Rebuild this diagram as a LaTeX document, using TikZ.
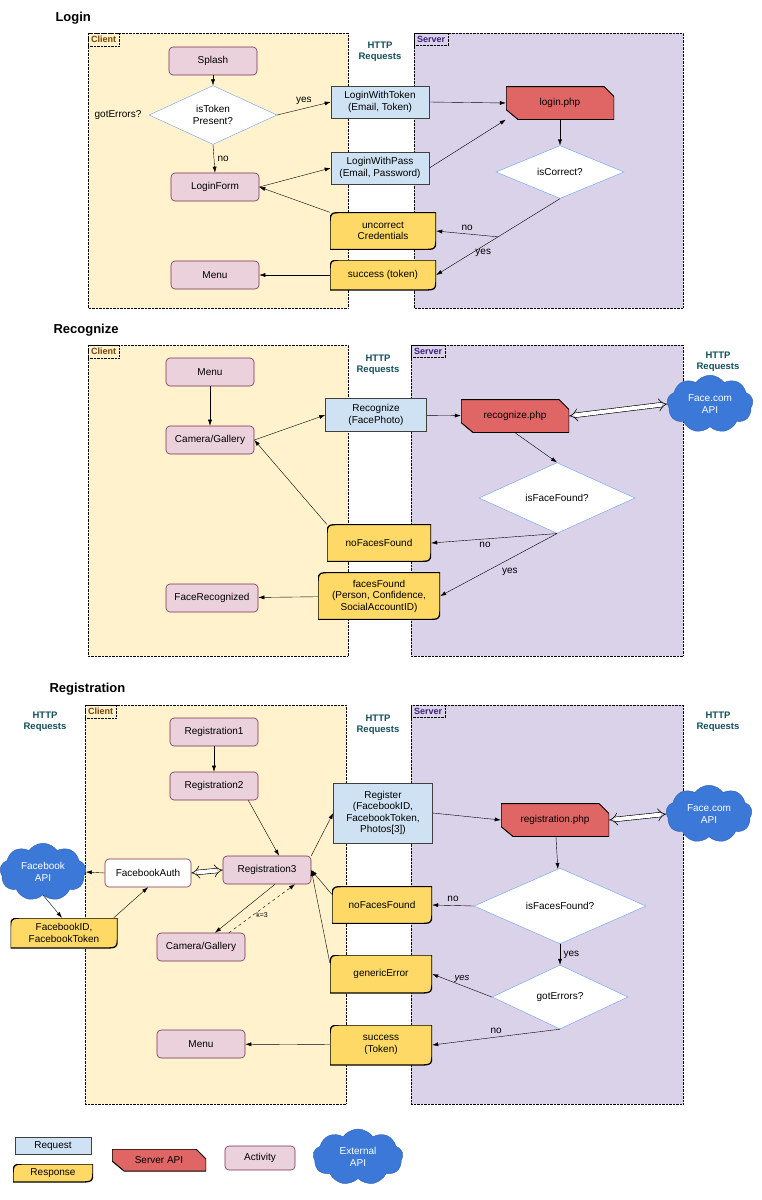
\documentclass[tikz,border=0pt]{standalone}
\usepackage{fontspec}
\setmainfont{Liberation Sans}
\usetikzlibrary{shapes.geometric,shapes.symbols,arrows.meta,positioning}
\definecolor{clientY}{HTML}{FFF2CC}
\definecolor{clientT}{HTML}{7F3F00}
\definecolor{serverP}{HTML}{D9D2E9}
\definecolor{serverT}{HTML}{3D1F7A}
\definecolor{httpT}{HTML}{134F5C}
\definecolor{reqB}{HTML}{CFE2F3}
\definecolor{respY}{HTML}{FFD966}
\definecolor{apiR}{HTML}{E06666}
\definecolor{actP}{HTML}{EAD1DC}
\definecolor{actD}{HTML}{7A2F54}
\definecolor{cloudB}{HTML}{3C78D8}
\definecolor{askB}{HTML}{6D9EEB}
\newcommand{\pb}{path picture bounding box}
\begin{document}
\begin{tikzpicture}[x=1pt, y=-1pt, font=\fontsize{10}{11.5}\selectfont,
  title style/.style={anchor=west, font=\fontsize{13}{15}\selectfont\bfseries},
  http style/.style={align=center, text=httpT, font=\fontsize{9.5}{11}\selectfont\bfseries},
  lane style/.style={draw, densely dotted},
  tag style/.style={draw, densely dotted, anchor=north west, inner sep=3pt, font=\fontsize{9}{10}\selectfont\bfseries},
  act style/.style={rectangle, draw=actD, semithick, fill=actP, rounded corners=4pt, minimum width=88, minimum height=28},
  req style/.style={rectangle, draw=black!75, semithick, fill=reqB, align=center, minimum width=98, minimum height=32},
  resp style/.style={align=center, minimum width=106, minimum height=36, path picture={
      \draw[fill=respY, line width=1.3pt] (\pb.south west) -- ([yshift=-14pt]\pb.north west) .. controls (\pb.north west) .. ([xshift=14pt]\pb.north west) -- (\pb.north east) -- ([yshift=14pt]\pb.south east) .. controls (\pb.south east) .. ([xshift=-14pt]\pb.south east) -- cycle;}},
  api style/.style={minimum width=108, minimum height=33, path picture={
      \draw[fill=apiR, line width=1pt] (\pb.north west) -- ([xshift=-10pt]\pb.north east) -- ([yshift=-10pt]\pb.north east) -- (\pb.south east) -- ([xshift=12pt]\pb.south west) -- ([yshift=10pt]\pb.south west) -- cycle;}},
  ask style/.style={diamond, draw=askB, fill=white, align=center, inner sep=0pt},
  cloud style/.style={cloud, cloud puffs=9, cloud puff arc=110, aspect=1.5, draw=cloudB!80!black, fill=cloudB, text=white, align=center, minimum width=86, minimum height=56},
  arr/.style={-{Latex[length=6pt,width=4pt]}},
  dbl/.style={double, double distance=4pt, line width=0.6pt, {Implies}-{Implies}}]
\useasboundingbox (0,0) rectangle (762,1200);

% Login
\node[title style] (T1) at (52,18) {Login};
\draw[lane style, fill=clientY] (88,33) rectangle (348,308);
\draw[lane style, fill=serverP] (414,33) rectangle (683,308);
\node[tag style, text=clientT] (C1) at (88,33) {Client};
\node[tag style, text=serverT] (V1) at (414,33) {Server};
\node[http style] (H1) at (380,52) {HTTP\\Requests};
\node[act style] (L1) at (213,61) {Splash};
\node[ask style, minimum width=128, minimum height=50] (L2) at (213,115) {isToken\\Present?};
\node (G1) at (118,115) {gotErrors?};
\node[req style] (L3) at (380,102) {LoginWithToken\\(Email, Token)};
\node[api style] (L4) at (560,103) {login.php};
\node[req style] (L5) at (380,168) {LoginWithPass\\(Email, Password)};
\node[ask style, minimum width=128, minimum height=50] (L6) at (560,172) {isCorrect?};
\node[act style] (L7) at (215,187) {LoginForm};
\node[resp style, minimum height=37] (L8) at (383,231) {uncorrect\\Credentials};
\node[act style] (L9) at (215,275) {Menu};
\node[resp style, minimum height=30] (L10) at (383,275) {success (token)};
\draw[arr] (L1) -- (L2);
\draw[arr] (L2.east) -- (L3.west) node[midway, above] {yes};
\draw[arr] (L2.south) -- (L7.north) node[midway, right] {no};
\draw[arr] (L7.east) -- (L5.west);
\draw[arr] (L3.east) -- (L4.west);
\draw[arr] (L5.east) -- (L4.south west);
\draw[arr] (L4) -- (L6);
\path (L6.south) -- (L10.east) coordinate[pos=.5] (B1);
\draw[arr] (L6.south) -- (L10.east) node[pos=.62, below] {yes};
\draw[arr] (B1) -- (L8.east) node[midway, above] {no};
\draw[arr] (L8.north west) -- (L7.east);
\draw[arr] (L10) -- (L9);

% Recognize
\node[title style] (T2) at (50,330) {Recognize};
\draw[lane style, fill=clientY] (88,345) rectangle (348,656);
\draw[lane style, fill=serverP] (411,345) rectangle (683,656);
\node[tag style, text=clientT] (C2) at (88,345) {Client};
\node[tag style, text=serverT] (V2) at (411,345) {Server};
\node[http style] (H2) at (378,365) {HTTP\\Requests};
\node[http style] (H3) at (718,362) {HTTP\\Requests};
\node[act style] (R1) at (210,372) {Menu};
\node[act style] (R2) at (210,440) {Camera/Gallery};
\node[req style, minimum width=101, minimum height=33] (R3) at (376,415) {Recognize\\(FacePhoto)};
\node[api style] (R4) at (515,416) {recognize.php};
\node[cloud style] (R5) at (710,404) {Face.com\\API};
\node[ask style, minimum width=156, minimum height=52] (R6) at (557,498) {isFaceFound?};
\node[resp style, minimum width=104, minimum height=37] (R7) at (379,543) {noFacesFound};
\node[resp style, minimum width=122, minimum height=47] (R8) at (379,596) {facesFound\\(Person, Confidence,\\SocialAccountID)};
\node[act style, minimum width=92] (R9) at (212,598) {FaceRecognized};
\draw[arr] (R1) -- (R2);
\draw[arr] (R2.east) -- (R3.west);
\draw[arr] (R3) -- (R4);
\draw[dbl] (R4.east) -- (R5.west);
\draw[arr] (R4.south) -- (R6.north);
\draw[arr] (R6.south) -- (R7.east) node[midway, below left] {no};
\draw[arr] (R6.south) -- (R8.east) node[midway, below right] {yes};
\draw[arr] (R7.north west) -- (R2.east);
\draw[arr] (R8) -- (R9);

% Registration
\node[title style] (T3) at (46,689) {Registration};
\draw[lane style, fill=clientY] (85,705) rectangle (346,1104);
\draw[lane style, fill=serverP] (411,705) rectangle (683,1104);
\node[tag style, text=clientT] (C3) at (85,705) {Client};
\node[tag style, text=serverT] (V3) at (411,705) {Server};
\node[http style] (H4) at (45,722) {HTTP\\Requests};
\node[http style] (H5) at (378,725) {HTTP\\Requests};
\node[http style] (H6) at (718,722) {HTTP\\Requests};
\node[act style] (G1a) at (214,732) {Registration1};
\node[act style] (G2) at (214,786) {Registration2};
\node[act style] (G3) at (267,870) {Registration3};
\node[act style, fill=white, minimum width=86] (G4) at (148,873) {FacebookAuth};
\node[cloud style] (G5) at (43,872) {Facebook\\API};
\node[resp style, minimum width=107, minimum height=30] (G6) at (64,933) {FacebookID,\\FacebookToken};
\node[act style] (G7) at (201,947) {Camera/Gallery};
\node[req style, minimum width=99, minimum height=60] (G8) at (383,813) {Register\\(FacebookID,\\FacebookToken,\\Photos[3])};
\node[api style] (G9) at (555,820) {registration.php};
\node[cloud style] (G10) at (709,814) {Face.com\\API};
\node[ask style, minimum width=172, minimum height=54] (G11) at (560,906) {isFacesFound?};
\node[resp style, minimum width=100, minimum height=37] (G12) at (382,905) {noFacesFound};
\node[ask style, minimum width=136, minimum height=64] (G13) at (560,997) {gotErrors?};
\node[resp style, minimum width=102, minimum height=38] (G14) at (381,974) {genericError};
\node[resp style, minimum width=102, minimum height=40] (G15) at (381,1045) {success\\(Token)};
\node[act style] (G16) at (201,1044) {Menu};
\draw[arr] (G1a) -- (G2);
\draw[arr] ([xshift=-10pt]G2.south east) -- ([xshift=12pt]G3.north);
\draw[arr] (G3.north east) -- (G8.west);
\draw[arr] (G8.east) -- (G9.west);
\draw[dbl] (G9.east) -- (G10.west);
\draw[arr] (G9) -- (G11);
\draw[arr] (G11.west) -- (G12.east) node[midway, above] {no};
\draw[arr] (G11.south) -- (G13.north) node[midway, right] {yes};
\draw[arr] (G13.west) -- (G14.east) node[midway, above, font=\fontsize{9.5}{11}\selectfont\itshape] {yes};
\draw[arr] (G13.south) -- (G15.east) node[midway, above] {no};
\draw[arr] ([yshift=-8pt]G12.north west) -- (G3.east);
\draw[arr] ([yshift=-8pt]G14.north west) -- (G3.east);
\draw[arr] (G15) -- (G16);
\draw[dbl] (G4.east) -- (G3.west);
\draw[arr] (G4.west) -- (G5.east);
\draw[arr] (G5.south) -- ([xshift=-2pt]G6.north);
\draw[arr] ([xshift=-4pt]G6.north east) -- (G4.south);
\draw[arr] ([xshift=8pt]G3.south) -- ([xshift=14pt]G7.north);
\draw[arr, dashed] ([xshift=28pt]G7.north) -- ([xshift=28pt]G3.south) node[midway, below, font=\fontsize{7}{8}\selectfont] {k=3};

% legend
\node[req style, minimum width=76, minimum height=17] (K1) at (53,1146) {Request};
\node[resp style, minimum width=80, minimum height=18] (K2) at (53,1173) {Response};
\node[api style, minimum width=94, minimum height=22] (K3) at (159,1160) {Server API};
\node[act style, minimum width=70, minimum height=24] (K4) at (260,1158) {Activity};
\node[cloud style, minimum width=90, minimum height=56] (K5) at (358,1157) {External\\API};
\end{tikzpicture}
\end{document}
